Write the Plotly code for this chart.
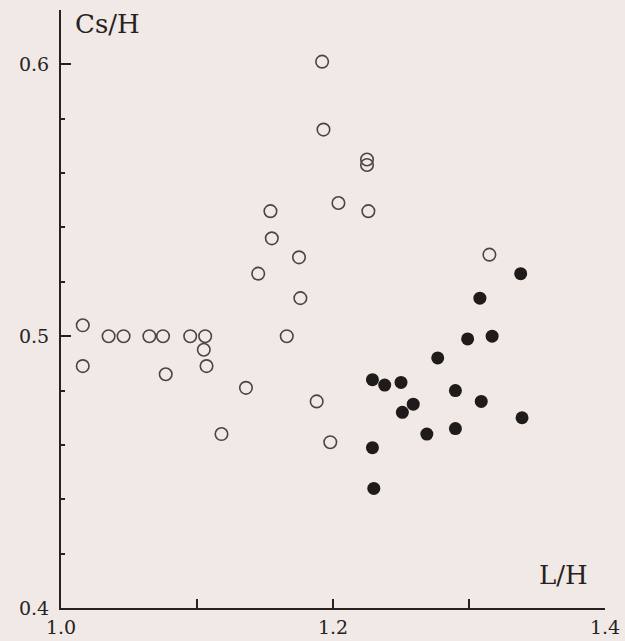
import plotly.graph_objects as go

# L/H and Cs/H pairs, open-circle group
open_lh = [1.016, 1.016, 1.035, 1.046, 1.065, 1.075, 1.077, 1.095, 1.106, 1.105,
           1.107, 1.118, 1.136, 1.166, 1.188, 1.176, 1.145, 1.175, 1.155, 1.154,
           1.204, 1.226, 1.225, 1.225, 1.193, 1.192, 1.198, 1.315]
open_cs = [0.504, 0.489, 0.500, 0.500, 0.500, 0.500, 0.486, 0.500, 0.500, 0.495,
           0.489, 0.464, 0.481, 0.500, 0.476, 0.514, 0.523, 0.529, 0.536, 0.546,
           0.549, 0.546, 0.565, 0.563, 0.576, 0.601, 0.461, 0.530]

# L/H and Cs/H pairs, filled-circle group
fill_lh = [1.229, 1.238, 1.250, 1.251, 1.259, 1.229, 1.230, 1.338, 1.308, 1.299,
           1.317, 1.277, 1.290, 1.309, 1.339, 1.269, 1.290]
fill_cs = [0.484, 0.482, 0.483, 0.472, 0.475, 0.459, 0.444, 0.523, 0.514, 0.499,
           0.500, 0.492, 0.480, 0.476, 0.470, 0.464, 0.466]

x_ticks = [1.0, 1.1, 1.2, 1.3, 1.4]
x_tick_text = ["1.0", "", "1.2", "", "1.4"]
y_ticks = [0.4, 0.5, 0.6]
y_tick_text = ["0.4", "0.5", "0.6"]

bg = "#f1e9e5"
ink = "#262222"
font_family = "DejaVu Serif, Liberation Serif, serif"

fig = go.Figure()
fig.add_trace(go.Scatter(
    x=open_lh, y=open_cs, mode="markers",
    marker=dict(symbol="circle-open", size=12.5, color="#4a4444",
                line=dict(width=1.6, color="#4a4444")),
    showlegend=False, hoverinfo="x+y"))
fig.add_trace(go.Scatter(
    x=fill_lh, y=fill_cs, mode="markers",
    marker=dict(symbol="circle", size=13, color="#1f1b1b",
                line=dict(width=0)),
    showlegend=False, hoverinfo="x+y"))

fig.update_layout(
    width=625, height=641,
    margin=dict(l=61, r=20, t=10, b=33, autoexpand=False),
    paper_bgcolor=bg, plot_bgcolor=bg,
    font=dict(family=font_family, color=ink, size=19),
    xaxis=dict(range=[1.0, 1.4], tickmode="array", tickvals=x_ticks,
               ticktext=x_tick_text, ticks="inside", ticklen=9, tickwidth=2,
               tickcolor=ink, showline=True, linewidth=2, linecolor=ink,
               showgrid=False, zeroline=False, ticklabelstandoff=1,
               automargin=False, tickfont=dict(size=19, weight=300)),
    yaxis=dict(range=[0.4, 0.62], tickmode="array", tickvals=y_ticks,
               ticktext=y_tick_text, ticks="inside", ticklen=10, tickwidth=2,
               tickcolor=ink, showline=True, linewidth=2, linecolor=ink,
               showgrid=False, zeroline=False, ticklabelstandoff=6,
               automargin=False, tickfont=dict(size=19, weight=300),
               minor=dict(tickmode="linear", tick0=0.4, dtick=0.02,
                          ticks="inside", ticklen=4, tickwidth=1.5,
                          tickcolor=ink, showgrid=False)),
    annotations=[
        dict(text="Cs/H", xref="paper", yref="paper", x=0.022, y=1.005,
             xanchor="left", yanchor="top", showarrow=False,
             font=dict(size=26, family=font_family, color=ink, weight=300)),
        dict(text="L/H", xref="paper", yref="paper", x=0.972, y=0.027,
             xanchor="right", yanchor="bottom", showarrow=False,
             font=dict(size=26, family=font_family, color=ink, weight=300)),
    ],
)

fig.write_html("out.html")
